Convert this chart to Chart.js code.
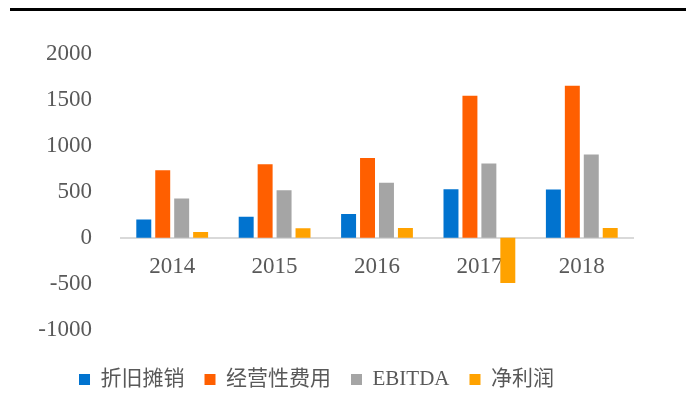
<!DOCTYPE html>
<html>
<head>
<meta charset="utf-8">
<script src="https://cdn.jsdelivr.net/npm/chart.js@4/dist/chart.umd.min.js"></script>
<style>
  html, body { margin: 0; padding: 0; background: #fff; }
  #wrap { position: relative; width: 686px; height: 406px; }
  #topline { position: absolute; left: 10px; right: 0; top: 8px; height: 3px; background: #000; }
  canvas { position: absolute; left: 0; top: 0; }
</style>
</head>
<body>
<div id="wrap">
  <canvas id="chart" width="686" height="406"></canvas>
  <div id="topline"></div>
</div>
<script>
var years = ['2014', '2015', '2016', '2017', '2018'];
var depreciation = [200, 230, 260, 530, 525];   // 折旧摊销
var opex = [735, 800, 868, 1546, 1654];          // 经营性费用
var ebitda = [428, 518, 600, 810, 908];          // EBITDA
var netProfit = [65, 105, 107, -490, 107];       // 净利润

var serif = "'Liberation Serif', 'Times New Roman', 'Noto Sans CJK SC', serif";

var ctx = document.getElementById('chart').getContext('2d');
var chart = new Chart(ctx, {
    type: 'bar',
    data: {
        labels: years,
        datasets: [
            { label: '折旧摊销', data: depreciation, backgroundColor: '#0173CF' },
            { label: '经营性费用', data: opex, backgroundColor: '#FF5F00' },
            { label: 'EBITDA', data: ebitda, backgroundColor: '#A5A5A5' },
            { label: '净利润', data: netProfit, backgroundColor: '#FFA200' }
        ]
    },
    options: {
        responsive: false,
        animation: false,
        datasets: {
            bar: { categoryPercentage: 0.74, barPercentage: 0.79 }
        },
        layout: { padding: { top: 54, right: 53, left: 0, bottom: 6 } },
        plugins: {
            tooltip: { enabled: false },
            legend: {
                position: 'bottom',
                // empty title only pushes the legend items down a bit
                title: { display: true, text: ' ', font: { size: 1 }, padding: { top: 0, bottom: 18 } },
                labels: {
                    boxWidth: 11,
                    boxHeight: 11,
                    padding: 20,
                    color: '#595959',
                    font: { family: serif, size: 21 }
                }
            }
        },
        scales: {
            x: {
                position: { y: 0 },
                grid: { display: false },
                border: { display: true, color: '#D9D9D9', width: 2 },
                ticks: { color: '#595959', padding: 7, font: { family: serif, size: 23 } }
            },
            y: {
                min: -1000,
                max: 2000,
                grid: { display: false },
                border: { display: false },
                ticks: {
                    stepSize: 500,
                    color: '#595959',
                    padding: 21,
                    font: { family: serif, size: 23 },
                    callback: function (v) { return String(v); }
                },
                afterFit: function (scale) { scale.width = 121; }
            }
        }
    }
});
</script>
</body>
</html>
